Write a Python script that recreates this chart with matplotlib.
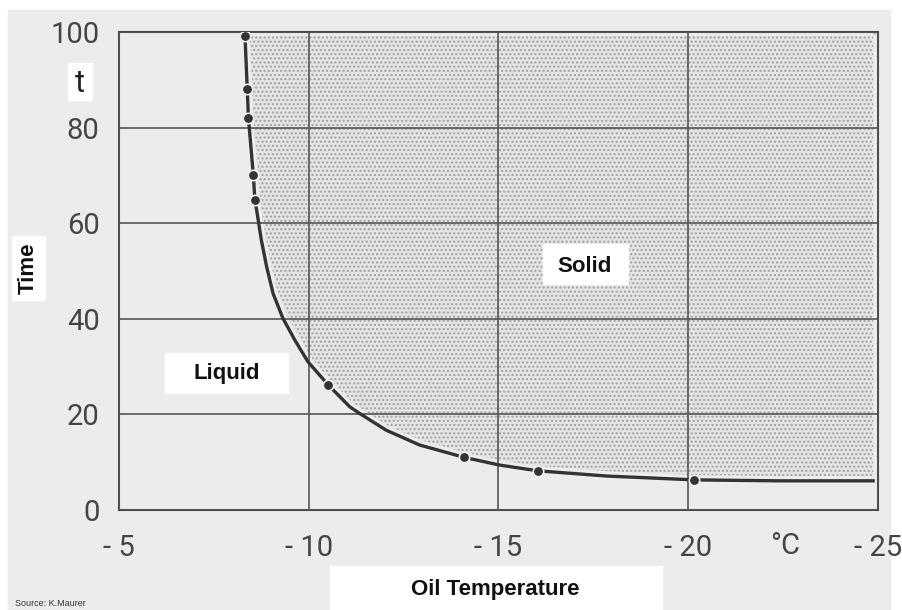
import matplotlib
matplotlib.use("Agg")
import matplotlib.pyplot as plt
from matplotlib.patches import Rectangle

# curve (temperature in degC, time)
curve_temp = [-8.32, -8.38, -8.41, -8.54, -8.58, -8.64, -8.75, -8.89, -9.06, -9.32,
              -9.63, -9.98, -10.51, -11.08, -11.34, -12.04, -12.92, -14.10, -15.03,
              -16.03, -17.86, -20.16, -22.40, -24.87]
curve_time = [99.2, 88.0, 82.1, 70.0, 64.9, 62.1, 56.5, 50.9, 45.3, 40.1,
              35.6, 31.0, 26.2, 21.6, 20.2, 16.7, 13.6, 11.0, 9.4,
              8.2, 7.1, 6.3, 6.1, 6.1]

# measured points
dot_temp = [-8.32, -8.38, -8.41, -8.54, -8.58, -10.51, -14.10, -16.03, -20.16]
dot_time = [99.2, 88.0, 82.1, 70.0, 64.9, 26.2, 11.0, 8.2, 6.3]

xticks = [-5, -10, -15, -20, -25]
xtick_labels = ["- 5", "- 10", "- 15", "- 20", "- 25"]
yticks = [0, 20, 40, 60, 80, 100]

W, H = 903, 610
bg = "#ececec"
ink = "#454545"
plt.rcParams["hatch.linewidth"] = 1.0

fig = plt.figure(figsize=(W / 100, H / 100), dpi=100)
fig.set_facecolor("white")
fig.patches.append(Rectangle((8 / W, 0), (890 - 8) / W, 1 - 10 / H,
                             transform=fig.transFigure, color=bg, zorder=-10))

ax = fig.add_axes([119 / W, 1 - 510 / H, (878 - 119) / W, (510 - 32) / H])
ax.set_facecolor(bg)
ax.set_xlim(-5, -25)
ax.set_ylim(0, 100)

# solid region (dotted screen) right of the curve
ax.fill_betweenx(curve_time + [100], curve_temp + [curve_temp[-1]], -25,
                 facecolor="#e4e4e4", edgecolor="#a0a0a0", hatch="....",
                 linewidth=0, zorder=1)
ax.fill_between([-25, curve_temp[-1]], 0, curve_time[-1], color=bg, zorder=1)
ax.plot(curve_temp, curve_time, color=bg, lw=7, solid_capstyle="butt", zorder=2)

ax.grid(True, color="#555555", lw=1.2)
ax.set_axisbelow(False)
ax.plot(curve_temp, curve_time, color="#333333", lw=2.4, zorder=3,
        solid_joinstyle="round")
ax.plot(dot_temp, dot_time, "o", color="#333333", ms=7.5, mec=bg, mew=1.2, zorder=4)

for s in ax.spines.values():
    s.set_color("#4a4a4a")
    s.set_linewidth(1.5)

ax.set_xticks(xticks)
ax.set_xticklabels(xtick_labels)
ax.set_yticks(yticks)
ax.tick_params(length=0, labelsize=21, labelcolor=ink, pad=14)
ax.tick_params(axis="x", pad=17)
for lab in ax.get_xticklabels() + ax.get_yticklabels():
    lab.set_family("Roboto")

# white label boxes (pixel positions from the picture)
def box(x0, y0, x1, y1):
    fig.patches.append(Rectangle((x0 / W, 1 - y1 / H), (x1 - x0) / W, (y1 - y0) / H,
                                 transform=fig.transFigure, color="white", zorder=5))

box(330, 566, 662, 610)
box(12, 236, 45, 300)
box(68, 63, 92, 100)
box(165, 353, 288, 393)
box(543, 244, 628, 284)

txt = dict(transform=fig.transFigure, zorder=6, ha="center", va="center",
           family="Liberation Sans", color="#111111")
fig.text(495 / W, 1 - 590 / H, "Oil Temperature", fontsize=16, fontweight="bold", **txt)
fig.text(28 / W, 1 - 268 / H, "Time", fontsize=16, fontweight="bold", rotation=90, **txt)
fig.text(227 / W, 1 - 373 / H, "Liquid", fontsize=16, fontweight="bold", **txt)
fig.text(585 / W, 1 - 266 / H, "Solid", fontsize=16, fontweight="bold", **txt)
fig.text(80 / W, 1 - 83 / H, "t", fontsize=22, zorder=6, ha="center", va="center",
         family="Roboto", color="#222222", transform=fig.transFigure)
fig.text(785 / W, 1 - 546 / H, "°C", fontsize=21, zorder=6, ha="center", va="center",
         family="Roboto", color=ink, transform=fig.transFigure)
fig.text(15 / W, 1 - 603 / H, "Source: K.Maurer", fontsize=6.5, ha="left", va="center",
         family="Liberation Sans", color="#333333", transform=fig.transFigure, zorder=6)

fig.savefig("out.png", dpi=100, facecolor=fig.get_facecolor())
